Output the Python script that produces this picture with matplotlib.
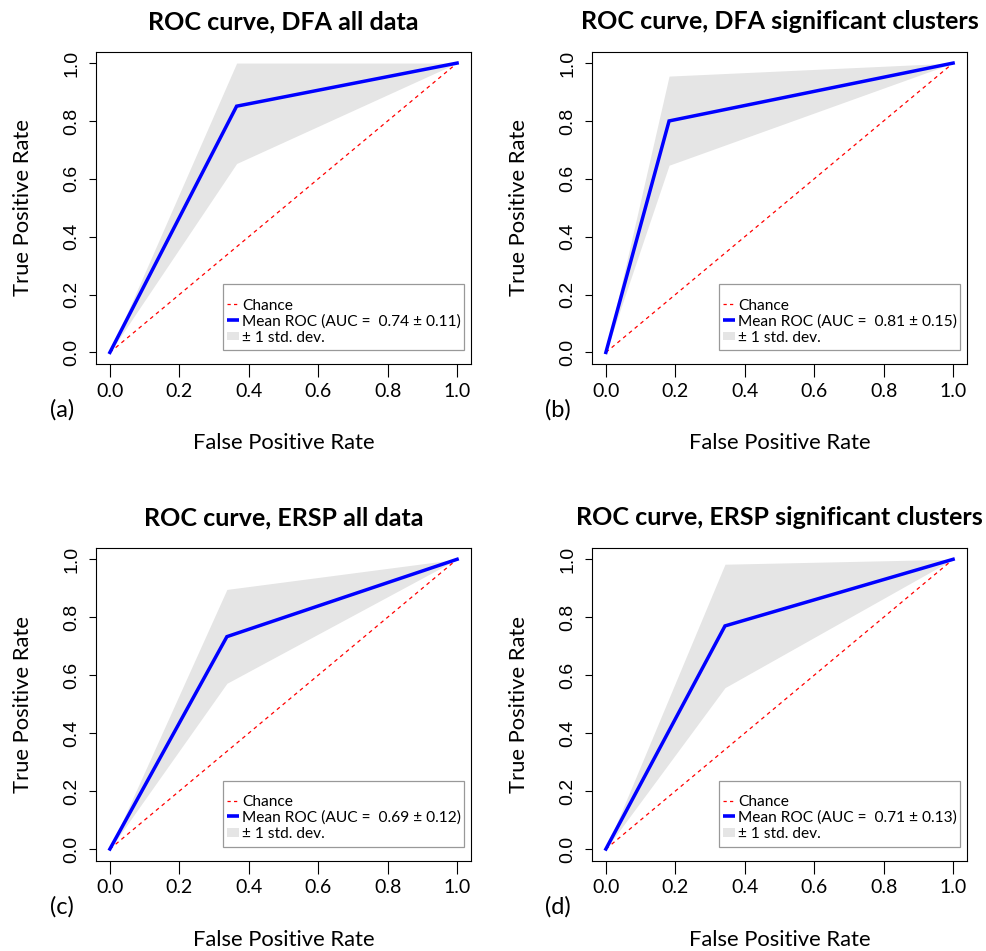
import matplotlib
matplotlib.use("Agg")
import matplotlib.pyplot as plt
from matplotlib.patches import Rectangle

W, H = 986, 951
plt.rcParams['font.family'] = ['Lato', 'DejaVu Sans']

titles = ["ROC curve, DFA all data", "ROC curve, DFA significant clusters",
          "ROC curve, ERSP all data", "ROC curve, ERSP significant clusters"]
panel_labels = ["(a)", "(b)", "(c)", "(d)"]
auc_mean = ["0.74", "0.81", "0.69", "0.71"]
auc_sd = ["0.11", "0.15", "0.12", "0.13"]

fpr_a = [0.0, 0.365, 1.0]; tpr_a = [0.0, 0.851, 1.0]; up_a = [0.0, 1.000, 1.0]; lo_a = [0.0, 0.653, 1.0]
fpr_b = [0.0, 0.182, 1.0]; tpr_b = [0.0, 0.800, 1.0]; up_b = [0.0, 0.955, 1.0]; lo_b = [0.0, 0.647, 1.0]
fpr_c = [0.0, 0.337, 1.0]; tpr_c = [0.0, 0.733, 1.0]; up_c = [0.0, 0.896, 1.0]; lo_c = [0.0, 0.572, 1.0]
fpr_d = [0.0, 0.343, 1.0]; tpr_d = [0.0, 0.770, 1.0]; up_d = [0.0, 0.983, 1.0]; lo_d = [0.0, 0.557, 1.0]

ticks = [0.0, 0.2, 0.4, 0.6, 0.8, 1.0]
tick_labels = ["0.0", "0.2", "0.4", "0.6", "0.8", "1.0"]
chance = [0.0, 1.0]

series = [(fpr_a, tpr_a, up_a, lo_a), (fpr_b, tpr_b, up_b, lo_b),
          (fpr_c, tpr_c, up_c, lo_c), (fpr_d, tpr_d, up_d, lo_d)]

boxes = [(96, 471, 51.5, 364), (592, 967, 51.5, 364),
         (96, 471, 547.7, 860.6), (592, 967, 547.7, 860.6)]

fig = plt.figure(figsize=(W / 100, H / 100), dpi=100)
BAND = "#E5E5E5"
ytick_font = ['Liberation Sans Narrow', 'Liberation Sans', 'DejaVu Sans']

for i, (l, r, t, b) in enumerate(boxes):
    ax = fig.add_axes([l / W, 1 - b / H, (r - l) / W, (b - t) / H])
    fpr, tpr, up, lo = series[i]
    ax.fill_between(fpr, lo, up, color=BAND, linewidth=0)
    ax.plot(chance, chance, color="red", lw=0.9, dashes=(3, 3))
    ax.plot(fpr, tpr, color="blue", lw=2.5, solid_joinstyle="miter")
    ax.set_xlim(-0.04, 1.04)
    ax.set_ylim(-0.04, 1.04)
    ax.set_xticks(ticks)
    ax.set_xticklabels(tick_labels, fontsize=14)
    ax.set_yticks(ticks)
    ax.set_yticklabels(tick_labels, fontsize=14, rotation=90, va="center",
                       family=ytick_font)
    ax.tick_params(axis="x", length=9.5, width=0.8, pad=4)
    ax.tick_params(axis="y", length=5, width=0.8, pad=6)
    for s in ax.spines.values():
        s.set_linewidth(0.8)
    ax.set_title(titles[i], fontsize=18, fontweight="bold", pad=16)
    ax.set_xlabel("False Positive Rate", fontsize=15.8, labelpad=24)
    ax.set_ylabel("True Positive Rate", fontsize=15.8, labelpad=22)
    ax.text(-0.09, -0.147, panel_labels[i], transform=ax.transAxes,
            fontsize=17, ha="center", va="center")

    # legend box (manual, R style)
    T = ax.transAxes
    ax.add_patch(Rectangle((0.338, 0.045), 0.643, 0.21, transform=T,
                           facecolor="white", edgecolor="#999999",
                           linewidth=0.9, zorder=5))
    rows = [0.192, 0.141, 0.0896]
    ax.plot([0.3493, 0.376], [rows[0]] * 2, transform=T, color="red",
            lw=0.9, dashes=(2.6, 2.6), zorder=6)
    ax.plot([0.3493, 0.381], [rows[1]] * 2, transform=T, color="blue",
            lw=2.6, solid_capstyle="butt", zorder=6)
    ax.add_patch(Rectangle((0.3493, rows[2] - 0.013), 0.032, 0.026,
                           transform=T, facecolor=BAND, edgecolor="none",
                           zorder=6))
    labels = ["Chance",
              "Mean ROC (AUC =  %s \u00b1 %s)" % (auc_mean[i], auc_sd[i]),
              "\u00b1 1 std. dev."]
    for y, lab in zip(rows, labels):
        ax.text(0.390, y, lab, transform=T, fontsize=11.2, ha="left",
                va="center_baseline", zorder=7)

fig.savefig("out.png", dpi=100)
